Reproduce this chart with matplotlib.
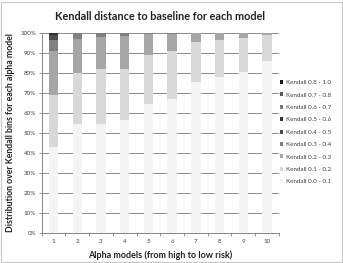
import matplotlib
matplotlib.use("Agg")
import matplotlib.pyplot as plt
import numpy as np
from matplotlib.patches import Rectangle

plt.rcParams['font.family'] = ['Lato', 'DejaVu Sans']

models = ['1', '2', '3', '4', '5', '6', '7', '8', '9', '10']
bins = ['Kendall 0.0 - 0.1', 'Kendall 0.1 - 0.2', 'Kendall 0.2 - 0.3',
        'Kendall 0.3 - 0.4', 'Kendall 0.4 - 0.5', 'Kendall 0.5 - 0.6',
        'Kendall 0.6 - 0.7', 'Kendall 0.7 - 0.8', 'Kendall 0.8 - 1.0']
k00_01 = [42.7, 54.5, 54.3, 56.5, 64.5, 67.0, 75.6, 78.0, 80.4, 85.7]
k01_02 = [26.3, 25.5, 27.4, 25.5, 24.4, 23.9, 19.6, 18.3, 17.1, 13.0]
k02_03 = [22.0, 16.8, 16.1, 16.3, 10.6, 8.6, 4.8, 3.7, 2.5, 1.3]
k03_04 = [5.3, 3.2, 2.2, 1.7, 0.5, 0.5, 0.0, 0.0, 0.0, 0.0]
k04_05 = [2.7, 0.0, 0.0, 0.0, 0.0, 0.0, 0.0, 0.0, 0.0, 0.0]
k05_06 = [0.7, 0.0, 0.0, 0.0, 0.0, 0.0, 0.0, 0.0, 0.0, 0.0]
k06_07 = [0.3, 0.0, 0.0, 0.0, 0.0, 0.0, 0.0, 0.0, 0.0, 0.0]
k07_08 = [0.0, 0.0, 0.0, 0.0, 0.0, 0.0, 0.0, 0.0, 0.0, 0.0]
k08_10 = [0.0, 0.0, 0.0, 0.0, 0.0, 0.0, 0.0, 0.0, 0.0, 0.0]
series = [k00_01, k01_02, k02_03, k03_04, k04_05, k05_06, k06_07, k07_08, k08_10]
colors = ['#f4f4f4', '#d9d9d9', '#a6a6a6', '#808080', '#4d4d4d',
          '#333333', '#7a7a7a', '#595959', '#1a1a1a']

fig = plt.figure(figsize=(3.43, 2.63), dpi=100)
fig.patch.set_facecolor('white')
fig.add_artist(Rectangle((0.003, 0.004), 0.994, 0.99, transform=fig.transFigure,
                         fill=False, edgecolor='#c8c8c8', linewidth=0.8))
ax = fig.add_axes([0.1216, 0.114, 0.6914, 0.762])

x = np.arange(1, len(models) + 1)
bottom = np.zeros(len(models))
handles = []
for vals, c, lab in zip(series, colors, bins):
    v = np.array(vals)
    h = ax.bar(x, v, 0.4, bottom=bottom, color=c, label=lab, zorder=2, linewidth=0)
    handles.append(h)
    bottom += v

ax.set_xlim(0.5, 10.5)
ax.set_ylim(0, 100)
ax.set_yticks(np.arange(0, 101, 10))
ax.set_yticklabels([f'{t}%' for t in range(0, 101, 10)], fontsize=4.5, color='#404040')
ax.set_xticks(x)
ax.set_xticklabels(models, fontsize=4.5, color='#404040')
ax.tick_params(axis='x', length=0, pad=4)
ax.set_xticks(np.arange(0.5, 11, 1), minor=True)
ax.tick_params(axis='x', which='minor', length=2, color='#868686', width=0.6)
ax.tick_params(axis='y', length=2, color='#868686', width=0.6, pad=2)
ax.grid(axis='y', color='#8c8c8c', linewidth=0.7, zorder=0)
ax.set_axisbelow(True)
for s in ['top', 'right']:
    ax.spines[s].set_visible(False)
for s in ['left', 'bottom']:
    ax.spines[s].set_color('#868686')
    ax.spines[s].set_linewidth(0.7)

ax.set_title('Kendall distance to baseline for each model', fontsize=7.8,
             fontweight='bold', color='#222222', pad=9)
ax.set_xlabel('Alpha models (from high to low risk)', fontsize=6.5,
              fontweight='bold', color='#222222', labelpad=5)
ax.set_ylabel('Distribution over Kendall bins for each alpha model', fontsize=6.3,
              fontweight='bold', color='#222222', labelpad=4)

leg = ax.legend(handles[::-1], bins[::-1], loc='upper left', bbox_to_anchor=(0.985, 0.785),
                frameon=False, fontsize=4.5, handlelength=0.6, handleheight=0.6,
                handletextpad=0.4, labelspacing=1.15, borderaxespad=0.3)
for t in leg.get_texts():
    t.set_color('#404040')

fig.savefig('out.png', dpi=100)
